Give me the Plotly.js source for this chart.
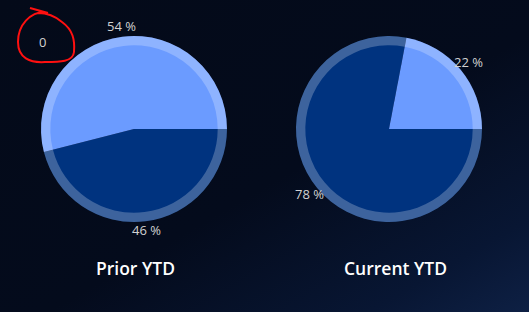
<!DOCTYPE html>
<html>
<head>
<meta charset="utf-8">
<script src="https://cdn.plot.ly/plotly-3.0.1.min.js"></script>
<style>
html,body{margin:0;padding:0;width:529px;height:312px;overflow:hidden;}
body{background:linear-gradient(150deg,#040a19 0%,#040b1c 55%,#081633 85%,#0e2044 100%);}
#chart{width:529px;height:312px;}
</style>
</head>
<body>
<div id="chart"></div>
<script>
var categories = ["Dark", "Light"];
var priorValues = [46, 54];
var currentValues = [78, 22];
var pieTitles = ["Prior YTD", "Current YTD"];
var cornerLabel = "0";

var sliceColors = ["#00337f", "#6b9bff"];
var ringColors = ["rgba(255,255,255,0.24)", "rgba(255,255,255,0.24)"];

var W = 529, H = 312;
var domains = [
  {x: [0.0775, 0.4291], y: [0.2885, 0.8846]},
  {x: [0.5595, 0.9112], y: [0.2885, 0.8846]}
];
var seriesList = [priorValues, currentValues];
var labelFont = {family: "Open Sans, sans-serif", size: 13, color: "#d2d2d2"};

var traces = [];
var annotations = [];
seriesList.forEach(function (vals, i) {
  traces.push({
    type: "pie",
    labels: categories,
    values: vals,
    sort: false,
    direction: "clockwise",
    rotation: 90,
    domain: domains[i],
    marker: {colors: sliceColors, line: {width: 0}},
    textinfo: "none",
    hoverinfo: "label+percent",
    showlegend: false
  });
  traces.push({
    type: "pie",
    labels: categories,
    values: vals,
    sort: false,
    direction: "clockwise",
    rotation: 90,
    hole: 0.9,
    domain: domains[i],
    marker: {colors: ringColors, line: {width: 0}},
    textinfo: "none",
    hoverinfo: "skip",
    showlegend: false
  });
  // percentage labels centred on each slice's mid-angle, just outside the pie
  var d = domains[i];
  var cx = W * (d.x[0] + d.x[1]) / 2;
  var cy = H * (1 - (d.y[0] + d.y[1]) / 2);
  var r = Math.min(W * (d.x[1] - d.x[0]), H * (d.y[1] - d.y[0])) / 2;
  var dist = r + 10;
  var total = vals.reduce(function (a, b) { return a + b; }, 0);
  var start = 0; // degrees, clockwise from 3 o'clock on screen
  vals.forEach(function (v) {
    var sweep = 360 * v / total;
    var mid = (start + sweep / 2) * Math.PI / 180;
    annotations.push({
      x: cx + dist * Math.cos(mid), y: cy + dist * Math.sin(mid) - 1,
      xref: "x", yref: "y", text: Math.round(100 * v / total) + " %",
      showarrow: false, font: labelFont, xanchor: "center", yanchor: "middle"
    });
    start += sweep;
  });
});

var titleX = [135, 395];
pieTitles.forEach(function (t, i) {
  annotations.push({
    x: titleX[i], y: 268, xref: "x", yref: "y", text: t, showarrow: false,
    font: {family: "Open Sans, sans-serif", size: 17.5, color: "#ffffff", weight: 600},
    xanchor: "center", yanchor: "middle"
  });
});
annotations.push({
  x: 42, y: 42, xref: "x", yref: "y", text: cornerLabel, showarrow: false,
  font: labelFont, xanchor: "center", yanchor: "middle"
});

var layout = {
  width: W, height: H,
  margin: {l: 0, r: 0, t: 0, b: 0, pad: 0},
  paper_bgcolor: "rgba(0,0,0,0)",
  plot_bgcolor: "rgba(0,0,0,0)",
  xaxis: {range: [0, W], visible: false, fixedrange: true},
  yaxis: {range: [H, 0], visible: false, fixedrange: true},
  annotations: annotations,
  shapes: [{
    type: "path", xref: "x", yref: "y",
    path: "M 30 8 L 48 13 M 45 12 C 30 12 18 25 18 42 C 18 58 30 63 45 62 C 60 62 73 62 74 52 C 75 40 73 30 62 22 C 55 16 48 13 38 13",
    line: {color: "#ff1010", width: 2}
  }]
};

Plotly.newPlot("chart", traces, layout, {displayModeBar: false, staticPlot: true});
</script>
</body>
</html>
